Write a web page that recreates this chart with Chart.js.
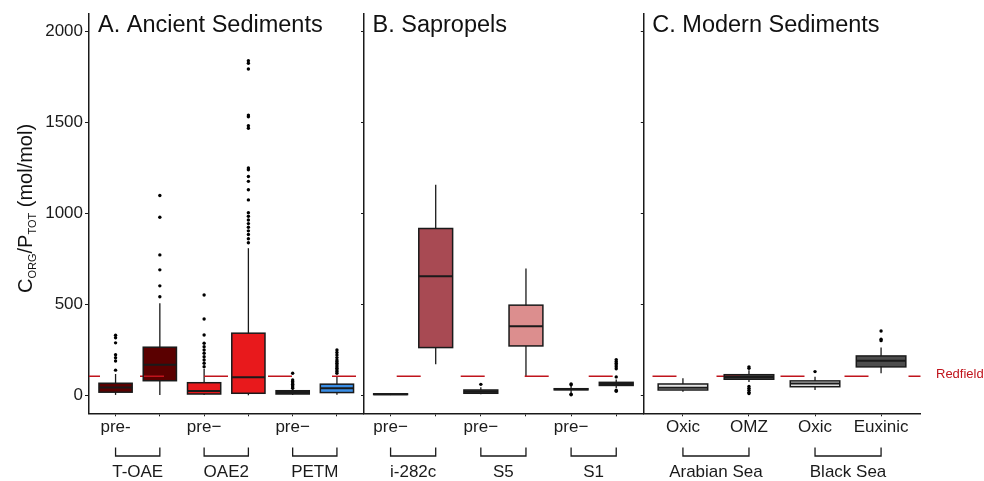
<!DOCTYPE html>
<html>
<head>
<meta charset="utf-8">
<title>Corg/Ptot</title>
<script src="https://cdn.jsdelivr.net/npm/chart.js@4.4.1/dist/chart.umd.min.js"></script>
<style>
  html, body { margin: 0; padding: 0; background: #fff; }
  #quadro { position: relative; width: 984px; height: 481px; }
  #quadro canvas { position: absolute; left: 0; top: 0; }
</style>
</head>
<body>
<div id="quadro">
  <canvas id="painel-a" width="984" height="481"></canvas>
  <canvas id="painel-b" width="984" height="481"></canvas>
  <canvas id="painel-c" width="984" height="481"></canvas>
</div>
<script>
/*
  Boxplots de Corg/Ptot em três painéis (estilo facet do ggplot).
  Chart.js não tem boxplot nativo: a caixa é uma barra flutuante [Q1, Q3],
  os outliers são um scatter e bigodes/mediana saem de um plugin que usa as escalas.
*/

// ---- dados ----
const TICKS_Y = [0, 500, 1000, 1500, 2000];
const REDFIELD = 106;

// A. Ancient Sediments
const ROTULOS_A = ['pre-', '', 'pre−', '', 'pre−', ''];
const GRUPOS_A = ['T-OAE', 'OAE2', 'PETM'];
const MIN_A = [4, 3, 3, 2, 3, 5];
const Q1_A = [19, 82, 9, 13, 9, 17];
const MED_A = [45, 170, 26, 101, 17, 40];
const Q3_A = [68, 266, 71, 343, 27, 63];
const MAX_A = [119, 508, 147, 810, 36, 104];
const OUT_A = [
  [332, 318, 290, 225, 208, 190, 140],
  [1099, 980, 773, 691, 603, 543],
  [553, 421, 333, 288, 269, 251, 233, 214, 196, 178, 159],
  [1840, 1826, 1794, 1541, 1532, 1482, 1469, 1250, 1241, 1204, 1177, 1131, 1075,
   1005, 985, 965, 945, 925, 905, 885, 862, 840],
  [123, 86, 78, 70, 62, 55, 48, 41],
  [251, 237, 223, 209, 196, 187, 178, 168, 159, 150, 141, 132, 123],
];

// B. Sapropels
const ROTULOS_B = ['pre−', '', 'pre−', '', 'pre−', ''];
const GRUPOS_B = ['i-282c', 'S5', 'S1'];
const MIN_B = [3, 172, 8, 104, 15, 42];
const Q1_B = [6, 264, 13, 273, 32, 56];
const MED_B = [8, 656, 22, 381, 35, 64];
const Q3_B = [10, 918, 31, 497, 38, 73];
const MAX_B = [12, 1158, 46, 698, 55, 88];
const OUT_B = [
  [],
  [],
  [62],
  [],
  [64, 60, 8, 5],
  [198, 188, 178, 168, 158, 148, 103, 30, 24],
];

// C. Modern Sediments
const ROTULOS_C = ['Oxic', 'OMZ', 'Oxic', 'Euxinic'];
const GRUPOS_C = ['Arabian Sea', 'Black Sea'];
const MIN_C = [22, 75, 31, 123];
const Q1_C = [31, 90, 49, 158];
const MED_C = [44, 103, 66, 191];
const Q3_C = [64, 115, 81, 218];
const MAX_C = [96, 140, 104, 265];
const OUT_C = [
  [],
  [158, 150, 50, 40, 30, 18, 12],
  [132],
  [355, 310, 302],
];

// ---- aparência ----
const FONTE = '"Liberation Sans", Arial, Helvetica, sans-serif';
const PRETO = '#1a1a1a', VERMELHO = '#c0141c';
const CORES_A = ['#5a0000', '#5a0000', '#e8191c', '#e8191c', '#1c1c1c', '#3a8ee6'];
const CORES_B = ['#2b2b2b', '#a84a53', '#4d4d4d', '#dc8e8e', '#2b2b2b', '#2b2b2b'];
const CORES_C = ['#e6e6e6', '#4d4d4d', '#e6e6e6', '#4d4d4d'];

const LARGURA = 984, ALTURA = 481;
const TOPO = 13.3, BASE = 413.3;       // topo e base da área dos painéis
const Y_MIN = -97, Y_MAX = 2100;

Chart.defaults.font.family = FONTE;

function montarPainel(id, p) {
  const pos = p.rotulos.map((_, i) => i + 1);
  const caixas = pos.map((x, i) => ({ x, y: [p.q1[i], p.q3[i]] }));
  const pontos = p.out.flatMap((lista, i) => lista.map((v) => ({ x: i + 1, y: v })));

  return new Chart(document.getElementById(id), {
    type: 'bar',
    data: {
      datasets: [
        { type: 'scatter', data: pontos, pointRadius: 1.7, pointBorderWidth: 0,
          pointBackgroundColor: '#000', order: 0 },
        { type: 'bar', data: caixas, backgroundColor: p.cores, borderWidth: 0,
          barPercentage: 0.75, categoryPercentage: 1, grouped: false, order: 1 },
      ],
    },
    options: {
      responsive: false, animation: false, events: [],
      layout: { padding: { left: p.esq - p.eixoY, right: LARGURA - p.dir, top: TOPO, bottom: 0 } },
      plugins: { legend: { display: false }, tooltip: { enabled: false }, title: { display: false } },
      scales: {
        x: {
          type: 'linear', min: 0.4, max: pos.length + 0.6, offset: false,
          afterBuildTicks: (s) => { s.ticks = pos.map((v) => ({ value: v })); },
          afterFit: (s) => { s.height = ALTURA - BASE; },
          grid: { drawOnChartArea: false, drawTicks: true, tickLength: 3, tickWidth: 1, tickColor: PRETO, offset: false },
          border: { color: PRETO, width: 1.5 },
          ticks: { callback: (v) => p.rotulos[Math.round(v) - 1] ?? '', color: PRETO,
                   font: { size: 17 }, padding: 1, maxRotation: 0, autoSkip: false },
        },
        y: {
          min: Y_MIN, max: Y_MAX,
          afterBuildTicks: (s) => { s.ticks = TICKS_Y.map((v) => ({ value: v })); },
          afterFit: (s) => { s.width = p.eixoY; },
          grid: { drawOnChartArea: false, drawTicks: true, tickLength: p.numeros ? 4 : 2.5,
                  tickWidth: 1, tickColor: PRETO },
          border: { color: PRETO, width: 1.5 },
          ticks: { callback: (v) => (p.numeros ? String(v) : ''), color: PRETO,
                   font: { size: 17 }, padding: 2 },
        },
      },
    },
    plugins: [pluginCaixas(p)],
  });
}

function pluginCaixas(p) {
  return {
    id: 'caixas',
    // bigodes atrás da caixa
    beforeDatasetsDraw(chart) {
      const { ctx, scales: { x, y } } = chart;
      ctx.save();
      ctx.strokeStyle = PRETO;
      ctx.lineWidth = 1.3;
      p.min.forEach((lo, i) => {
        const px = x.getPixelForValue(i + 1);
        ctx.beginPath();
        ctx.moveTo(px, y.getPixelForValue(lo));
        ctx.lineTo(px, y.getPixelForValue(p.max[i]));
        ctx.stroke();
      });
      ctx.restore();
    },
    afterDatasetsDraw(chart) {
      const { ctx, scales: { y }, chartArea: a } = chart;
      const barras = chart.getDatasetMeta(1).data;

      // linha de Redfield: por cima do preenchimento, por baixo dos contornos
      ctx.save();
      ctx.beginPath();
      ctx.rect(a.left, a.top, a.width, a.height);
      ctx.clip();
      const yr = y.getPixelForValue(REDFIELD);
      ctx.strokeStyle = VERMELHO;
      ctx.lineWidth = 1.5;
      ctx.setLineDash([24, 40]);
      ctx.lineDashOffset = p.faseTraco;
      ctx.beginPath();
      ctx.moveTo(a.left, yr);
      ctx.lineTo(a.right, yr);
      ctx.stroke();
      ctx.restore();

      ctx.save();
      ctx.strokeStyle = PRETO;
      barras.forEach((b, i) => {
        const esq = b.x - b.width / 2;
        const yTopo = y.getPixelForValue(p.q3[i]);
        const yBase = y.getPixelForValue(p.q1[i]);
        ctx.lineWidth = 1.5;
        ctx.strokeRect(esq, yTopo, b.width, yBase - yTopo);
        const ym = y.getPixelForValue(p.med[i]);
        ctx.lineWidth = 2;
        ctx.beginPath();
        ctx.moveTo(esq, ym);
        ctx.lineTo(esq + b.width, ym);
        ctx.stroke();
      });
      ctx.restore();
    },
    afterDraw(chart) {
      const { ctx, scales: { x, y }, chartArea: a } = chart;
      ctx.save();

      // colchetes e nomes dos grupos
      ctx.strokeStyle = PRETO;
      ctx.lineWidth = 1.3;
      ctx.fillStyle = PRETO;
      ctx.font = `17px ${FONTE}`;
      ctx.textAlign = 'center';
      ctx.textBaseline = 'alphabetic';
      p.grupos.forEach((nome, g) => {
        const x1 = x.getPixelForValue(2 * g + 1);
        const x2 = x.getPixelForValue(2 * g + 2);
        ctx.beginPath();
        ctx.moveTo(x1, 447.5);
        ctx.lineTo(x1, 456);
        ctx.lineTo(x2, 456);
        ctx.lineTo(x2, 447.5);
        ctx.stroke();
        ctx.fillText(nome, (x1 + x2) / 2, 477);
      });

      // título do painel
      ctx.textAlign = 'left';
      ctx.font = `23.5px ${FONTE}`;
      ctx.fillStyle = '#111';
      ctx.fillText(p.titulo, a.left + 9, 31.7);

      if (p.numeros) desenharTituloY(ctx);

      if (p.rotuloRedfield) {
        ctx.font = `13px ${FONTE}`;
        ctx.fillStyle = VERMELHO;
        ctx.textBaseline = 'middle';
        ctx.fillText('Redfield', 936, y.getPixelForValue(REDFIELD) - 2);
      }
      ctx.restore();
    },
  };
}

// C_ORG / P_TOT com subscritos, girado
function desenharTituloY(ctx) {
  const partes = [
    ['C', 20, 0], ['ORG', 11, 4], ['/P', 20, 0], ['TOT', 11, 4], [' (mol/mol)', 20, 0],
  ];
  ctx.save();
  ctx.translate(31.5, 293);
  ctx.rotate(-Math.PI / 2);
  ctx.fillStyle = '#111';
  ctx.textAlign = 'left';
  ctx.textBaseline = 'alphabetic';
  let pos = 0;
  partes.forEach(([txt, tam, desce]) => {
    ctx.font = `${tam}px ${FONTE}`;
    ctx.fillText(txt, pos, desce);
    pos += ctx.measureText(txt).width;
  });
  ctx.restore();
}

montarPainel('painel-a', {
  titulo: 'A. Ancient Sediments', rotulos: ROTULOS_A, grupos: GRUPOS_A,
  min: MIN_A, q1: Q1_A, med: MED_A, q3: Q3_A, max: MAX_A, out: OUT_A, cores: CORES_A,
  esq: 89, dir: 363.5, eixoY: 89, numeros: true, faseTraco: 13,
});
montarPainel('painel-b', {
  titulo: 'B. Sapropels', rotulos: ROTULOS_B, grupos: GRUPOS_B,
  min: MIN_B, q1: Q1_B, med: MED_B, q3: Q3_B, max: MAX_B, out: OUT_B, cores: CORES_B,
  esq: 363.5, dir: 643.3, eixoY: 4, numeros: false, faseTraco: 30.8,
});
montarPainel('painel-c', {
  titulo: 'C. Modern Sediments', rotulos: ROTULOS_C, grupos: GRUPOS_C,
  min: MIN_C, q1: Q1_C, med: MED_C, q3: Q3_C, max: MAX_C, out: OUT_C, cores: CORES_C,
  esq: 643.3, dir: 920.7, eixoY: 4, numeros: false, faseTraco: 54.8, rotuloRedfield: true,
});
</script>
</body>
</html>
